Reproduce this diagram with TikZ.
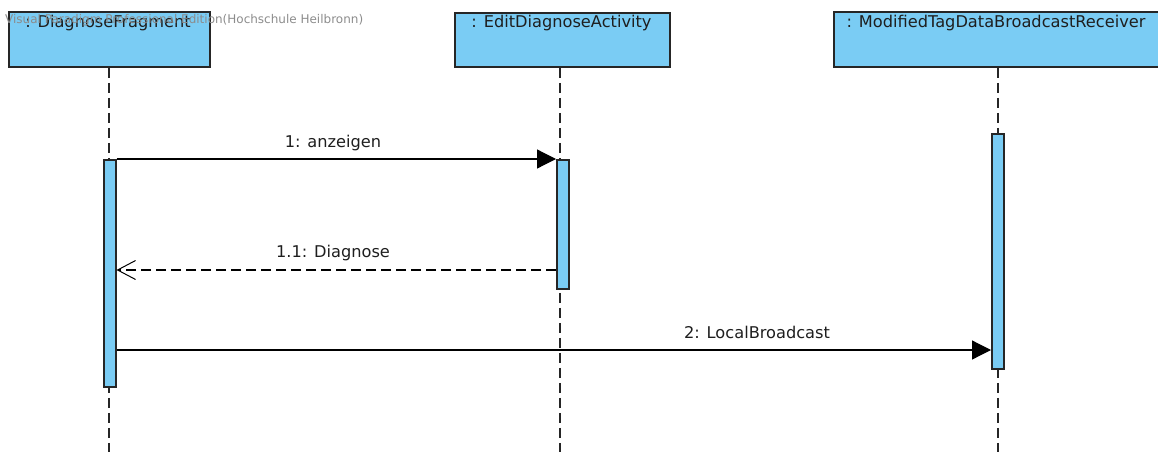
\documentclass[tikz,border=0pt]{standalone}
\usepackage{fontspec}
\setmainfont{DejaVu Sans}
\usetikzlibrary{arrows.meta}
\definecolor{lifefill}{RGB}{122,204,244}
\definecolor{txt}{RGB}{30,30,30}
\definecolor{wm}{RGB}{140,140,140}
\tikzset{
  objbox/.style={draw=black!85, line width=1.8pt, fill=lifefill, rectangle, anchor=north west, inner sep=0pt},
  objtitle/.style={anchor=base, inner sep=0pt, text=txt, font=\fontsize{16.2}{19}\selectfont},
  lifeline/.style={draw=black!85, line width=1.3pt, dash pattern=on 10pt off 5pt},
  actbar/.style={draw=black!85, line width=1.5pt, fill=lifefill, rectangle, anchor=north west, inner sep=0pt, minimum width=12pt},
  msg/.style={draw=black, line width=1.2pt, -{Triangle[length=19pt,width=19pt]}},
  retmsg/.style={draw=black, line width=1.2pt, dash pattern=on 10pt off 5pt, -{Straight Barb[length=18pt,width=19pt,line width=1pt]}},
  msglabel/.style={anchor=base, inner sep=0pt, text=txt, font=\fontsize{16.2}{19}\selectfont},
}
\begin{document}
\begin{tikzpicture}[x=1pt,y=-1pt]
\useasboundingbox (0,0) rectangle (1158,452);
% object boxes
\node[objbox, minimum width=201pt, minimum height=55pt] (box1) at (8,11) {};
\node[objbox, minimum width=215pt, minimum height=54pt] (box2) at (454,12) {};
\node[objbox, minimum width=330pt, minimum height=55pt] (box3) at (833,11) {};
% titles
\node[objtitle] (t1) at (108,28) {: DiagnoseFragment};
\node[objtitle] (t2) at (561.5,28) {: EditDiagnoseActivity};
\node[objtitle] (t3) at (996,28) {: ModifiedTagDataBroadcastReceiver};
% watermark
\node[anchor=base west, inner sep=0pt, text=wm, font=\fontsize{12}{14}\selectfont] (wmark) at (5,24) {Visual Paradigm Professional Edition(Hochschule Heilbronn)};
% lifeline ends
\coordinate (e1) at (109,452);
\coordinate (e2) at (560,452);
\coordinate (e3) at (998,452);
\draw[lifeline] (box1.south -| e1) -- (e1);
\draw[lifeline] (box2.south -| e2) -- (e2);
\draw[lifeline] (box3.south -| e3) -- (e3);
% activation bars
\node[actbar, minimum height=227pt] (bar1) at (103,159) {};
\node[actbar, minimum height=129pt] (bar2) at (556,159) {};
\node[actbar, minimum height=235pt] (bar3) at (991,133) {};
% message points
\coordinate (m2y) at (0,270);
\coordinate (m3y) at (0,350);
% messages
\draw[msg] (bar1.north east) -- (bar2.north west);
\node[msglabel] (l1) at (333,147) {1: anzeigen};
\draw[retmsg] (bar2.west |- m2y) -- (bar1.east |- m2y);
\node[msglabel] (l2) at (333,257) {1.1: Diagnose};
\draw[msg] (bar1.east |- m3y) -- (bar3.west |- m3y);
\node[msglabel] (l3) at (757,338) {2: LocalBroadcast};
\end{tikzpicture}
\end{document}
